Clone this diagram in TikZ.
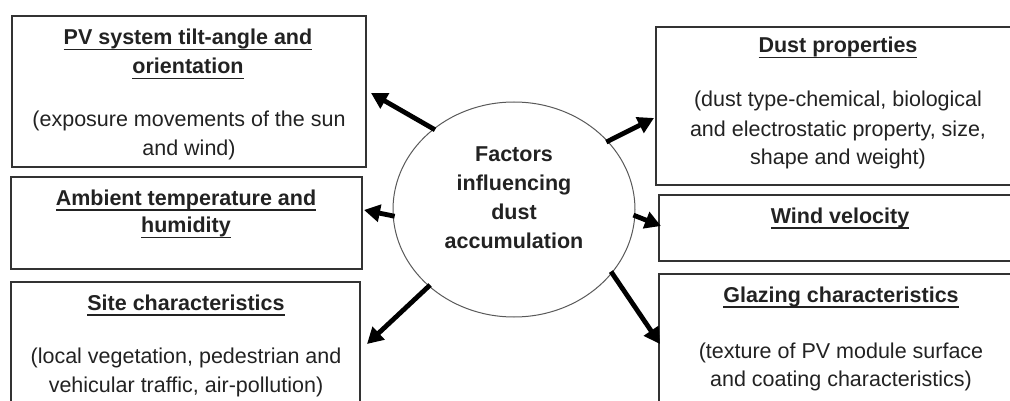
\documentclass[tikz,border=0pt]{standalone}
\usepackage{fontspec}
\setmainfont{Liberation Sans}
\usetikzlibrary{shapes.geometric,arrows.meta}
\definecolor{txt}{HTML}{222222}
\definecolor{edge}{HTML}{333333}
\newcommand\myul[1]{\setbox0\hbox{#1}\rlap{\rule[-5.5pt]{\wd0}{1.8pt}}\box0}
\tikzset{
  box/.style={draw=edge,line width=1.5pt},
  hd/.style={anchor=base,inner sep=0pt,text=txt,font=\fontsize{21.5}{29}\selectfont\bfseries},
  bd/.style={anchor=base,inner sep=0pt,text=txt,font=\fontsize{21.5}{29}\selectfont},
  arr/.style={line width=4.8pt,black,-{Triangle[length=16pt,width=17pt]},shorten <=-2pt},
}
\begin{document}
\begin{tikzpicture}[x=1pt,y=-1pt]
\useasboundingbox (0,0) rectangle (1010,401);
\clip (0,0) rectangle (1010,401);
% boxes
\draw[box] (12,16) rectangle (366,167) node[pos=0.5] (b1) {};
\draw[box] (11,177) rectangle (362,269) node[pos=0.5] (b2) {};
\draw[box] (11,282) rectangle (360,430) node[pos=0.5] (b3) {};
\draw[box] (656,27) rectangle (1030,185) node[pos=0.5] (b4) {};
\draw[box] (659,195) rectangle (1030,261) node[pos=0.5] (b5) {};
\draw[box] (659,274) rectangle (1030,430) node[pos=0.5] (b6) {};
% texts left
\node[hd] (t1a) at (188,45) {\myul{PV system tilt-angle and}};
\node[hd] (t1b) at (188,74) {\myul{orientation}};
\node[bd] (t1c) at (189,127) {(exposure movements of the sun};
\node[bd] (t1d) at (189,156) {and wind)};
\node[hd] (t2a) at (186,205) {\myul{Ambient temperature and}};
\node[hd] (t2b) at (186,233) {\myul{humidity}};
\node[hd] (t3a) at (186,310) {\myul{Site characteristics}};
\node[bd] (t3b) at (186,363) {(local vegetation, pedestrian and};
\node[bd] (t3c) at (186,392) {vehicular traffic, air-pollution)};
% texts right
\node[hd] (t4a) at (838,53) {\myul{Dust properties}};
\node[bd] (t4b) at (838,107) {(dust type-chemical, biological};
\node[bd] (t4c) at (838,137) {and electrostatic property, size,};
\node[bd] (t4d) at (838,165) {shape and weight)};
\node[hd] (t5a) at (840,223) {\myul{Wind velocity}};
\node[hd] (t6a) at (841,302) {\myul{Glazing characteristics}};
\node[bd] (t6b) at (841,358) {(texture of PV module surface};
\node[bd] (t6c) at (841,386) {and coating characteristics)};
% center
\node[draw=black!65,line width=1pt,ellipse,minimum width=242pt,minimum height=215pt,inner sep=0pt] (c) at (514,209.5) {};
\node[hd] (ca) at (514,162) {Factors};
\node[hd] (cb) at (514,191) {influencing};
\node[hd] (cc) at (514,219.5) {dust};
\node[hd] (cd) at (514,248) {accumulation};
% arrow tips
\coordinate (p1) at (371,93);
\coordinate (p2) at (364,210);
\coordinate (p3) at (367,344);
\coordinate (p4) at (654,118);
\coordinate (p5) at (661,226);
\coordinate (p6) at (660,344);
\draw[arr] (c.135) -- (p1);
\draw[arr] (c.183.5) -- (p2);
\draw[arr] (c.222) -- (p3);
\draw[arr] (c.36) -- (p4);
\draw[arr] (c.-3.5) -- (p5);
\draw[arr] (c.-33.5) -- (p6);
\end{tikzpicture}
\end{document}
